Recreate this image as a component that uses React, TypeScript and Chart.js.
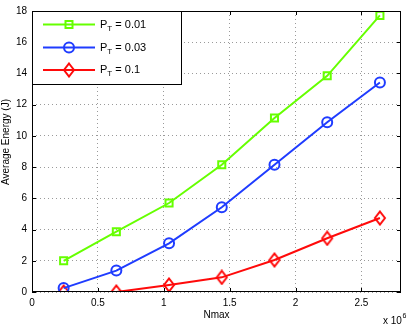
import React, { useEffect, useRef } from "react";
import { Chart, registerables } from "chart.js";

Chart.register(...registerables);

// Nmax in units of 10^6 (axis shows "x 10^6")
const nmaxMillions = [0.24, 0.64, 1.04, 1.44, 1.84, 2.24, 2.64];
const energyPt001 = [2.0, 3.86, 5.7, 8.15, 11.15, 13.85, 17.72];
const energyPt003 = [0.25, 1.37, 3.12, 5.43, 8.15, 10.87, 13.42];
const energyPt01 = [0.0, 0.0, 0.45, 0.94, 2.05, 3.44, 4.74];
const xTicks = [0, 0.5, 1, 1.5, 2, 2.5];
const yTicks = [0, 2, 4, 6, 8, 10, 12, 14, 16, 18];
const seriesLabels = ["0.01", "0.03", "0.1"];
const xTitle = "Nmax";
const yTitle = "Average Energy (J)";

const GREEN = "#66ff00";
const BLUE = "#1f3cff";
const RED = "#ff0a0a";

function makeDiamond(color: string) {
  const c = document.createElement("canvas");
  c.width = 14;
  c.height = 16;
  const g = c.getContext("2d")!;
  g.strokeStyle = color;
  g.lineWidth = 2;
  g.beginPath();
  g.moveTo(7, 1.5);
  g.lineTo(12, 8);
  g.lineTo(7, 14.5);
  g.lineTo(2, 8);
  g.closePath();
  g.stroke();
  return c;
}

export default function App() {
  const ref = useRef<HTMLCanvasElement>(null);
  useEffect(() => {
    document.body.style.margin = "0";
    const diamond = makeDiamond(RED);
    const font = "'Liberation Sans', Arial, sans-serif";

    const boxPlugin = {
      id: "boxPlugin",
      afterDraw(chart: any) {
        const { ctx, chartArea: a, scales } = chart;
        ctx.save();
        ctx.strokeStyle = "#000";
        ctx.lineWidth = 1;
        const xs = scales.x, ys = scales.y;
        ctx.beginPath();
        for (const t of xs.ticks) {
          const px = Math.round(xs.getPixelForValue(t.value)) + 0.5;
          ctx.moveTo(px, a.bottom);
          ctx.lineTo(px, a.bottom - 4);
          ctx.moveTo(px, a.top);
          ctx.lineTo(px, a.top + 4);
        }
        for (const t of ys.ticks) {
          const py = Math.round(ys.getPixelForValue(t.value)) + 0.5;
          ctx.moveTo(a.left, py);
          ctx.lineTo(a.left + 4, py);
          ctx.moveTo(a.right, py);
          ctx.lineTo(a.right - 4, py);
        }
        ctx.stroke();
        ctx.strokeRect(a.left + 0.5, a.top + 0.5, a.right - a.left - 1, a.bottom - a.top - 1);

        // legend
        const lx = a.left, ly = a.top, lw = 150, lh = 74;
        ctx.fillStyle = "#fff";
        ctx.fillRect(lx, ly, lw, lh);
        ctx.strokeRect(lx + 0.5, ly + 0.5, lw - 1, lh - 1);
        const rows = [
          { color: GREEN, shape: "square", y: ly + 13.5 },
          { color: BLUE, shape: "circle", y: ly + 36.5 },
          { color: RED, shape: "diamond", y: ly + 59 },
        ];
        rows.forEach((r, i) => {
          ctx.strokeStyle = r.color;
          ctx.lineWidth = 2;
          ctx.beginPath();
          ctx.moveTo(lx + 11, r.y);
          ctx.lineTo(lx + 63, r.y);
          ctx.stroke();
          const mx = lx + 37;
          ctx.beginPath();
          if (r.shape === "square") {
            ctx.rect(mx - 3.5, r.y - 3.5, 7, 7);
            ctx.stroke();
          } else if (r.shape === "circle") {
            ctx.arc(mx, r.y, 5, 0, Math.PI * 2);
            ctx.stroke();
          } else {
            ctx.drawImage(diamond, mx - 7, r.y - 8);
          }
          ctx.fillStyle = "#000";
          ctx.textBaseline = "middle";
          ctx.textAlign = "left";
          ctx.font = `11px ${font}`;
          const tx = lx + 68;
          ctx.fillText("P", tx, r.y);
          const pw = ctx.measureText("P").width;
          ctx.font = `8px ${font}`;
          ctx.fillText("T", tx + pw, r.y + 4);
          const tw = ctx.measureText("T").width;
          ctx.font = `11px ${font}`;
          ctx.fillText(" = " + seriesLabels[i], tx + pw + tw, r.y);
        });

        // axis titles
        ctx.fillStyle = "#000";
        ctx.font = `10px ${font}`;
        ctx.textAlign = "center";
        ctx.textBaseline = "middle";
        ctx.fillText(xTitle, (a.left + a.right) / 2, 315);
        ctx.save();
        ctx.translate(6, 142);
        ctx.rotate(-Math.PI / 2);
        ctx.fillText(yTitle, 0, 0);
        ctx.restore();

        // x 10^6
        ctx.textAlign = "left";
        ctx.textBaseline = "alphabetic";
        ctx.font = `10px ${font}`;
        ctx.fillText("x 10", 383, 324);
        const w = ctx.measureText("x 10").width;
        ctx.font = `7px ${font}`;
        ctx.fillText("6", 383 + w + 0.5, 318);
        ctx.restore();
      },
    };

    const chart = new Chart(ref.current!, {
      type: "line",
      data: {
        datasets: [
          {
            data: nmaxMillions.map((x, i) => ({ x, y: energyPt001[i] })),
            borderColor: GREEN,
            backgroundColor: "transparent",
            borderWidth: 2,
            pointStyle: "rect",
            pointRadius: 5,
            pointBorderWidth: 2,
            pointBorderColor: GREEN,
            pointBackgroundColor: "transparent",
          },
          {
            data: nmaxMillions.map((x, i) => ({ x, y: energyPt003[i] })),
            borderColor: BLUE,
            backgroundColor: "transparent",
            borderWidth: 2,
            pointStyle: "circle",
            pointRadius: 5,
            pointBorderWidth: 2,
            pointBorderColor: BLUE,
            pointBackgroundColor: "transparent",
          },
          {
            data: nmaxMillions.map((x, i) => ({ x, y: energyPt01[i] })),
            borderColor: RED,
            backgroundColor: "transparent",
            borderWidth: 2,
            pointStyle: diamond as any,
            pointRadius: 6,
            pointBorderColor: RED,
            pointBackgroundColor: "transparent",
          },
        ],
      },
      options: {
        responsive: false,
        animation: false,
        events: [],
        layout: { padding: { top: 5, right: 1, left: 0, bottom: 0 } },
        plugins: { legend: { display: false }, tooltip: { enabled: false } },
        scales: {
          x: {
            type: "linear",
            min: 0,
            max: 2.8,
            border: { display: false, dash: [1, 3] },
            grid: { color: "#9a9a9a", lineWidth: 1, drawTicks: false },
            afterBuildTicks: (s: any) => {
              s.ticks = xTicks.map((v) => ({ value: v }));
            },
            ticks: {
              padding: 5,
              maxRotation: 0,
              autoSkip: false,
              color: "#000",
              font: { family: font, size: 10 },
              callback: (v: any) => String(v),
            },
            afterFit: (s: any) => {
              s.height = 34;
            },
          },
          y: {
            min: 0,
            max: 18,
            border: { display: false, dash: [1, 3] },
            grid: { color: "#9a9a9a", lineWidth: 1, drawTicks: false },
            afterBuildTicks: (s: any) => {
              s.ticks = yTicks.map((v) => ({ value: v }));
            },
            ticks: {
              padding: 5,
              color: "#000",
              font: { family: font, size: 10 },
            },
            afterFit: (s: any) => {
              s.width = 32;
            },
          },
        },
      },
      plugins: [boxPlugin],
    } as any);
    return () => chart.destroy();
  }, []);
  return (
    <div style={{ position: "absolute", left: 0, top: 0, width: 409, height: 326 }}>
      <canvas ref={ref} width={409} height={326} style={{ width: 409, height: 326 }} />
    </div>
  );
}
